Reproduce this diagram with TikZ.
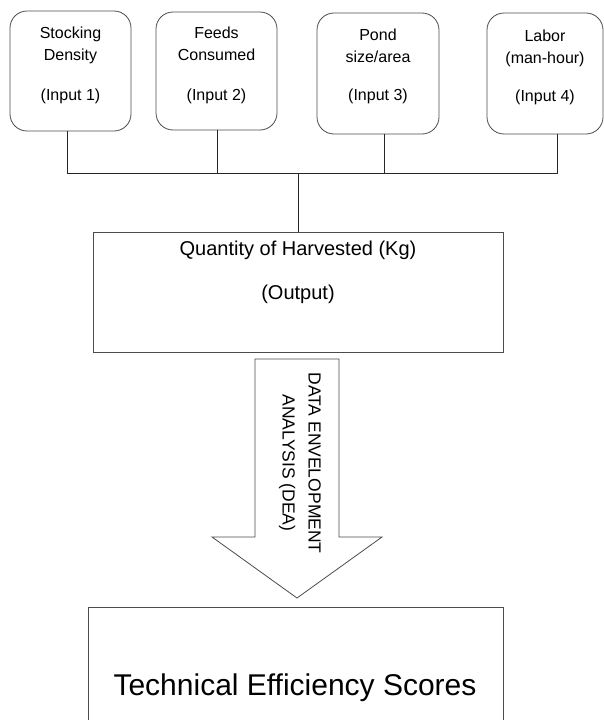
\documentclass[tikz,border=0pt]{standalone}
\usepackage{fontspec}
\setmainfont{Liberation Sans}
\begin{document}
\begin{tikzpicture}[x=1pt,y=-1pt,
  inbox/.style={draw=black!70, line width=0.8pt, rounded corners=17pt, minimum width=121pt, minimum height=120pt, inner sep=0pt},
  intext/.style={anchor=north, align=center, inner sep=0pt, font=\fontsize{16}{22}\selectfont},
  bigbox/.style={draw=black!70, line width=0.8pt, inner sep=0pt},
  conn/.style={draw=black!85, line width=0.8pt}
]
\useasboundingbox (0,0) rectangle (604,720);
% input boxes
\node[inbox] (b1) at (70.5,71) {};
\node[inbox, minimum height=118pt] (b2) at (216.5,71) {};
\node[inbox, minimum width=122pt, minimum height=121pt] (b3) at (378,73.5) {};
\node[inbox, minimum width=116pt, minimum height=121pt] (b4) at (545,73.5) {};
\node[intext] (t1) at ([yshift=-16pt]b1.north) {Stocking\\Density\\[18pt](Input 1)};
\node[intext] (t2) at ([yshift=-15pt]b2.north) {Feeds\\Consumed\\[18pt](Input 2)};
\node[intext] (t3) at ([yshift=-16pt]b3.north) {Pond\\size/area\\[16pt](Input 3)};
\node[intext] (t4) at ([yshift=-17pt]b4.north) {Labor\\(man-hour)\\[16pt](Input 4)};
% output box
\node[bigbox, minimum width=410pt, minimum height=120pt] (out) at (298,292) {};
\node[anchor=north, align=center, inner sep=0pt, font=\fontsize{20}{44}\selectfont] (tout) at ([yshift=-9pt]out.north) {Quantity of Harvested (Kg)\\(Output)};
% bus
\coordinate (bus) at (298,173.5);
\draw[conn] ([xshift=-3.5pt]b1.south) |- (bus) -| ([xshift=12pt]b4.south);
\draw[conn] ([xshift=0.5pt]b2.south) -- ([xshift=0.5pt]b2.south |- bus);
\draw[conn] ([xshift=6pt]b3.south) -- ([xshift=6pt]b3.south |- bus);
\draw[conn] (bus) -- (out.north);
% DEA arrow
\draw[draw=black!70, line width=0.8pt, fill=white] (255,359) -- (339,359) -- (339,537) -- (382,537) -- (297,598) -- (212,537) -- (255,537) -- cycle;
\node[rotate=-90, align=center, inner sep=0pt, font=\fontsize{17.5}{26}\selectfont] (dea) at (300,463) {DATA ENVELOPMENT\\ANALYSIS (DEA)};
% result box
\draw[draw=black!70, line width=0.8pt] (88,740) -- (88,607) -- (503,607) -- (503,740);
\node[inner sep=0pt, font=\fontsize{30}{36}\selectfont] (res) at (295,688) {Technical Efficiency Scores};
\end{tikzpicture}
\end{document}
